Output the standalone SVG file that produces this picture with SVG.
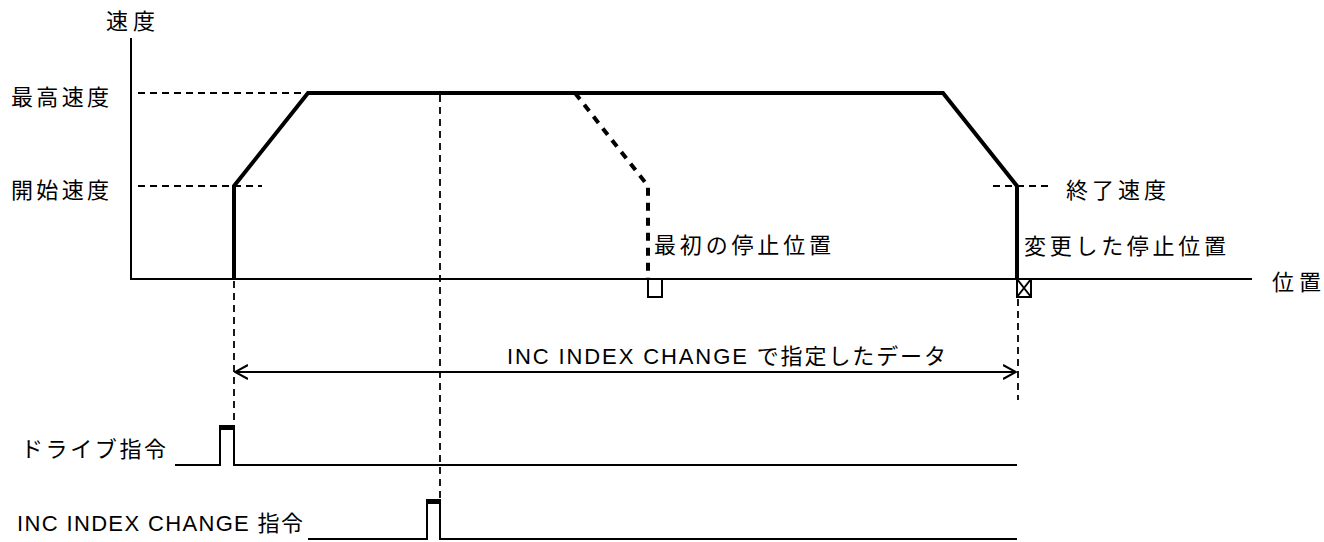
<svg xmlns="http://www.w3.org/2000/svg" width="1324" height="542" viewBox="0 0 1324 542">
<style>
text{font-family:"Liberation Sans","Noto Sans CJK JP",sans-serif;font-size:22px;fill:#000}
.ax{stroke:#000;stroke-width:2;fill:none}
.thin{stroke:#000;stroke-width:2;fill:none}
.dash{stroke:#000;stroke-width:1.8;fill:none;stroke-dasharray:7 5}
.prof{stroke:#000;stroke-width:4;fill:none;stroke-linejoin:miter}
.pdash{stroke:#000;stroke-width:4;fill:none;stroke-dasharray:8 7}
.top{stroke:#000;stroke-width:5}
</style>
<defs>
<marker id="ah" viewBox="0 0 14 16" refX="13" refY="8" markerWidth="14" markerHeight="16" markerUnits="userSpaceOnUse" orient="auto-start-reverse">
<path d="M0,1 L13,8 L0,15" fill="none" stroke="#000" stroke-width="2"/>
</marker>
</defs>
<g id="axes">
<line class="ax" x1="131" y1="38" x2="131" y2="280"/>
<line class="ax" x1="130" y1="279" x2="1252" y2="279"/>
<text x="106" y="29" textLength="49">速度</text>
<text x="1272" y="290" textLength="49">位置</text>
</g>
<g id="speed-levels">
<line class="dash" x1="138" y1="93" x2="308" y2="93"/>
<line class="dash" x1="138" y1="186" x2="262" y2="186"/>
<line class="dash" x1="993" y1="186" x2="1048" y2="186"/>
<text x="11" y="105" textLength="98">最高速度</text>
<text x="11" y="198" textLength="98">開始速度</text>
<text x="1066" y="198" textLength="100">終了速度</text>
</g>
<g id="profile">
<polyline class="prof" points="234,279 234,186 308,93 943,93 1017,186 1017,279"/>
</g>
<g id="first-stop">
<polyline class="pdash" points="575,93 648,186 648,279"/>
<rect x="648" y="279" width="14" height="18" class="thin" stroke-width="1.5"/>
<text x="654" y="253" textLength="177">最初の停止位置</text>
</g>
<g id="changed-stop">
<rect x="1017" y="279" width="14" height="18" class="thin" stroke-width="1.5"/>
<path d="M1017,279 L1031,297 M1031,279 L1017,297" class="thin" stroke-width="1.3"/>
<text x="1024" y="254" textLength="202">変更した停止位置</text>
</g>
<g id="connectors">
<line class="dash" x1="234" y1="281" x2="234" y2="425"/>
<line class="dash" x1="440" y1="95" x2="440" y2="500"/>
<line class="dash" x1="1018" y1="299" x2="1018" y2="400"/>
<line class="thin" x1="235" y1="372" x2="1016" y2="372" marker-start="url(#ah)" marker-end="url(#ah)"/>
</g>
<g id="data-label">
<text x="507" y="364" textLength="439">INC INDEX CHANGE で指定したデータ</text>
</g>
<g id="drive-signal">
<text x="21" y="457" textLength="145">ドライブ指令</text>
<polyline class="thin" points="175,465 220,465 220,428 234,428 234,465 1017,465"/>
<line class="top" x1="219" y1="427.5" x2="235" y2="427.5"/>
</g>
<g id="inc-signal">
<text x="17" y="531" textLength="286">INC INDEX CHANGE 指令</text>
<polyline class="thin" points="308,539 427,539 427,502 440,502 440,539 1017,539"/>
<line class="top" x1="426" y1="501.5" x2="441" y2="501.5"/>
</g>
</svg>
